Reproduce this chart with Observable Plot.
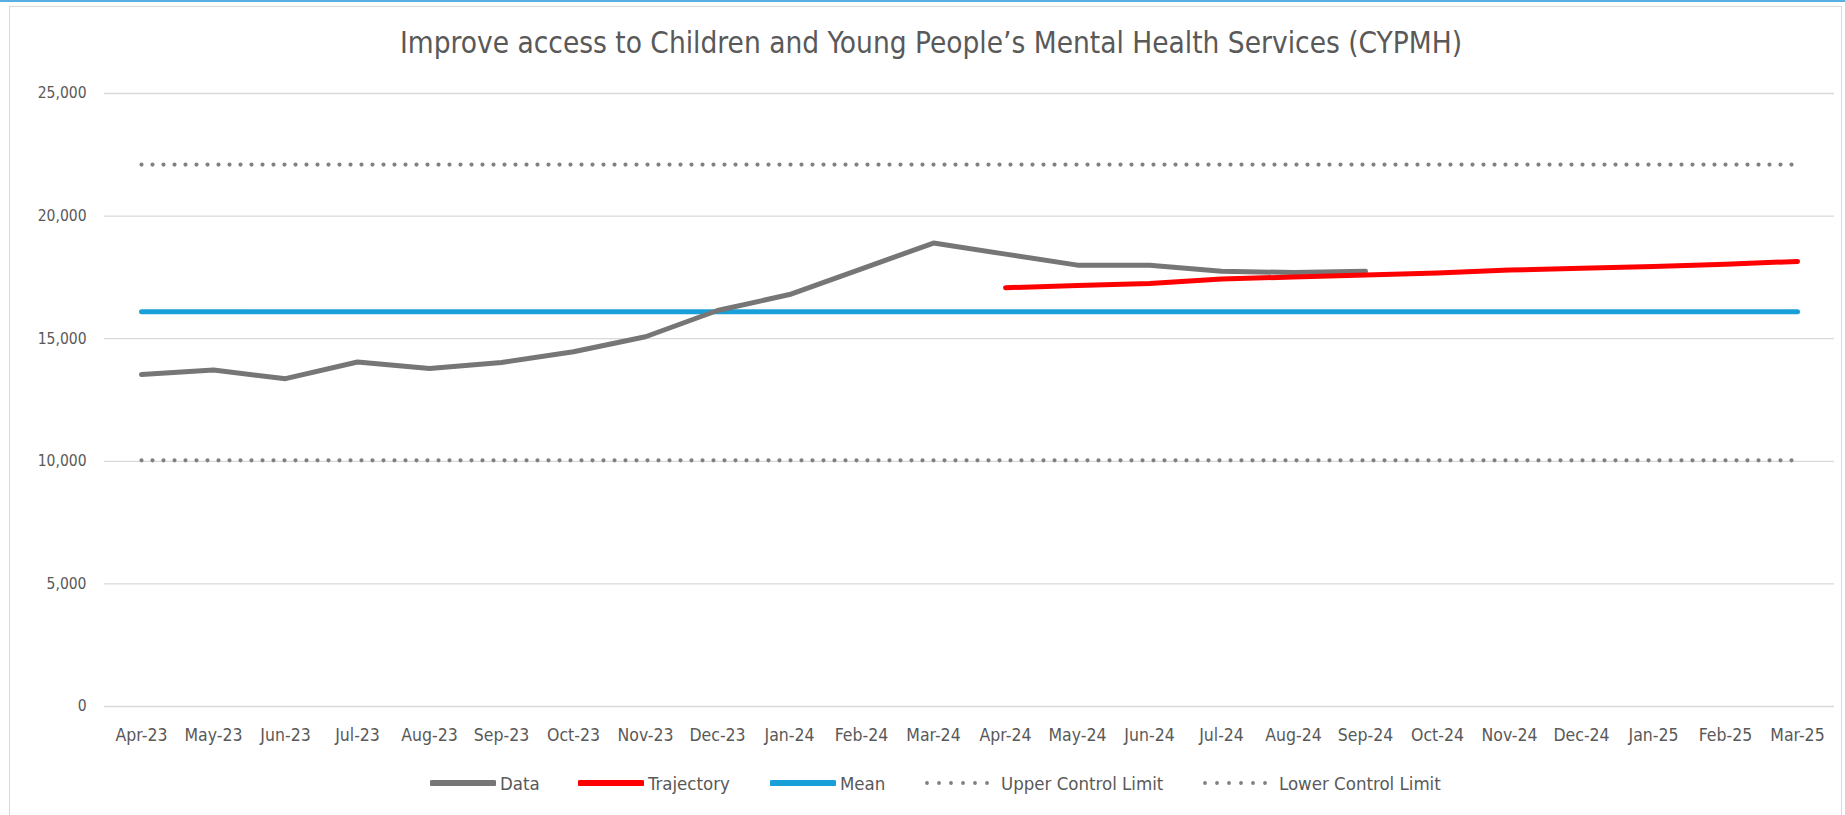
<!DOCTYPE html>
<html>
<head>
<meta charset="utf-8">
<script src="https://cdn.jsdelivr.net/npm/d3@7"></script>
<script src="https://cdn.jsdelivr.net/npm/@observablehq/plot@0.6"></script>
<style>
  html, body { margin: 0; padding: 0; background: #fff; }
  body { width: 1845px; height: 815px; position: relative; overflow: hidden;
         font-family: "Liberation Sans Narrow", "DejaVu Sans Condensed", "Roboto", sans-serif; color: #595959; }
  #topbar { position: absolute; left: 0; top: 0; width: 1845px; height: 2px; background: #5aaee0; z-index: 3; }
  #frame { position: absolute; left: 9px; top: 6px; width: 1833px; height: 812px; border: 1px solid #d9d9d9; box-sizing: border-box; z-index: 2; pointer-events: none; }
  #title { position: absolute; left: 0; width: 1862px; top: 26px; text-align: center; font-size: 29.5px; color: #595959; }
  #chart { position: absolute; left: 0; top: 70px; }
  #legend { position: absolute; top: 771px; left: 0; width: 1845px; height: 24px; font-size: 18.5px; color: #595959; white-space: nowrap; }
  .item { position: absolute; top: 0; display: flex; align-items: center; gap: 4px; height: 24px; }
</style>
</head>
<body>
<div id="topbar"></div>
<div id="frame"></div>
<div id="title">Improve access to Children and Young People’s Mental Health Services (CYPMH)</div>
<div id="chart"></div>
<div id="legend"></div>
<script>
const months = ["Apr-23","May-23","Jun-23","Jul-23","Aug-23","Sep-23","Oct-23","Nov-23","Dec-23","Jan-24","Feb-24","Mar-24",
                "Apr-24","May-24","Jun-24","Jul-24","Aug-24","Sep-24","Oct-24","Nov-24","Dec-24","Jan-25","Feb-25","Mar-25"];
const dataValues = [13540, 13720, 13370, 14050, 13780, 14030, 14470, 15080, 16150, 16800, 17850, 18900,
                    18450, 18000, 18000, 17750, 17700, 17750];
const trajectoryMonths = ["Apr-24","May-24","Jun-24","Jul-24","Aug-24","Sep-24","Oct-24","Nov-24","Dec-24","Jan-25","Feb-25","Mar-25"];
const trajectoryValues = [17080, 17170, 17250, 17430, 17520, 17600, 17680, 17800, 17870, 17940, 18040, 18150];
const meanValue = 16100;
const upperLimit = 22100;
const lowerLimit = 10040;
const yTicks = [0, 5000, 10000, 15000, 20000, 25000];
const seriesNames = ["Data", "Trajectory", "Mean", "Upper Control Limit", "Lower Control Limit"];
const seriesColors = ["#767676", "#ff0000", "#19a0d8", "#808080", "#808080"];

const dataRows = dataValues.map((v, i) => ({month: months[i], value: v}));
const trajRows = trajectoryValues.map((v, i) => ({month: trajectoryMonths[i], value: v}));
const constRows = (val) => months.map(m => ({month: m, value: val}));

const dotted = {strokeDasharray: "0 11", strokeLinecap: "round", strokeWidth: 4.2};
const font = '"Liberation Sans Narrow", "DejaVu Sans Condensed", Roboto, sans-serif';

const chart = Plot.plot({
  width: 1845,
  height: 680,
  marginLeft: 104,
  marginRight: 11,
  marginTop: 23,
  marginBottom: 44,
  style: {fontFamily: font, fontSize: "15.5px", color: "#595959", background: "transparent"},
  x: {type: "point", domain: months, padding: 0.5, label: null},
  y: {domain: [0, 25000], label: null},
  marks: [
    Plot.gridY(yTicks, {stroke: "#d9d9d9", strokeOpacity: 1, strokeWidth: 1.3}),
    Plot.axisY(yTicks, {tickFormat: d3.format(","), tickSize: 0, tickPadding: 18, label: null, fontSize: 15.5}),
    Plot.axisX(months, {tickSize: 0, tickPadding: 22, label: null, fontSize: 17.5}),
    Plot.line(constRows(upperLimit), {x: "month", y: "value", stroke: seriesColors[3], ...dotted}),
    Plot.line(constRows(lowerLimit), {x: "month", y: "value", stroke: seriesColors[4], ...dotted}),
    Plot.line(constRows(meanValue), {x: "month", y: "value", stroke: seriesColors[2], strokeWidth: 5}),
    Plot.line(dataRows, {x: "month", y: "value", stroke: seriesColors[0], strokeWidth: 5, strokeLinejoin: "round"}),
    Plot.line(trajRows, {x: "month", y: "value", stroke: seriesColors[1], strokeWidth: 5, strokeLinecap: "round", strokeLinejoin: "round"})
  ]
});
document.getElementById("chart").appendChild(chart);

// Legend (layout positions of each entry)
const legendLeft = [430, 578, 770, 924, 1202];
const legend = document.getElementById("legend");
seriesNames.forEach((name, i) => {
  const item = document.createElement("div");
  item.className = "item";
  item.style.left = legendLeft[i] + "px";
  const svg = d3.create("svg").attr("width", 66).attr("height", 10);
  const ln = svg.append("line").attr("y1", 5).attr("y2", 5).attr("stroke", seriesColors[i]);
  if (i >= 3) {
    ln.attr("x1", 3).attr("x2", 64).attr("stroke-width", 3.8).attr("stroke-dasharray", "0 12").attr("stroke-linecap", "round");
  } else {
    ln.attr("x1", 2).attr("x2", 64).attr("stroke-width", 6).attr("stroke-linecap", "round");
  }
  item.appendChild(svg.node());
  const span = document.createElement("span");
  span.textContent = name;
  if (i >= 3) span.style.marginLeft = "7px";
  item.appendChild(span);
  legend.appendChild(item);
});
</script>
</body>
</html>
